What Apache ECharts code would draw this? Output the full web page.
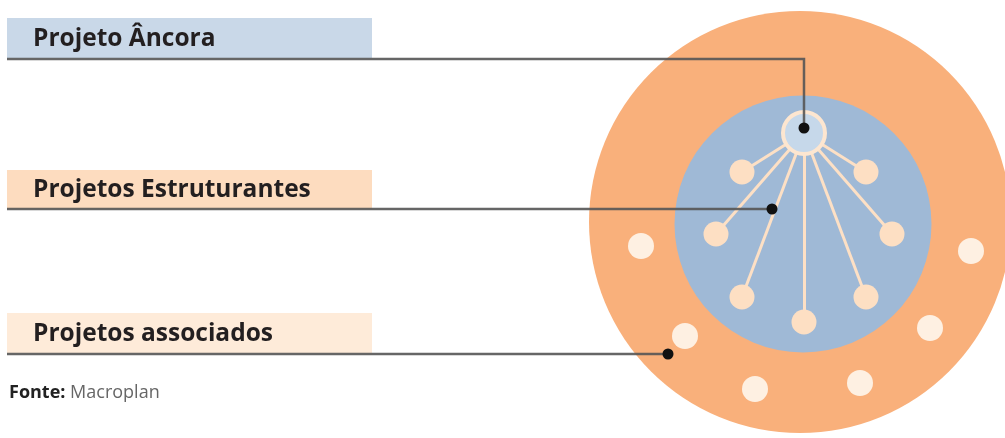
<!DOCTYPE html>
<html>
<head>
<meta charset="utf-8">
<script src="https://cdn.jsdelivr.net/npm/echarts@6/dist/echarts.min.js"></script>
<style>
html, body { margin: 0; padding: 0; background: #fff; }
#main { width: 1005px; height: 438px; }
</style>
</head>
<body>
<div id="main"></div>
<script>
// diagram units = pixels of the original figure
var tiers = ['Projeto Âncora', 'Projetos Estruturantes', 'Projetos associados'];
var outerRing = [[800, 222]];
var innerRing = [[803, 224]];
var anchorNode = [[804, 133]];
var structuringNodes = [[742, 172], [866, 172], [716, 234], [892, 234], [742, 297], [866, 297], [804, 322]];
var associatedNodes = [[641, 246], [971, 251], [685, 336], [930, 328], [755, 389], [860, 383]];
// leader lines: label -> dot
var leaderPaths = [
    [[7, 59], [804, 59], [804, 128]],
    [[7, 209], [772, 209]],
    [[7, 354], [668, 354]]
];
var leaderDots = [[804, 128], [772, 209], [668, 354]];

var myChart = echarts.init(document.getElementById('main'));

// label bands (top, bottom, fill)
var bands = [
    {top: 18, bottom: 58, fill: '#c9d8e8'},
    {top: 170, bottom: 209, fill: '#fddcbf'},
    {top: 313, bottom: 353, fill: '#feebd9'}
];

var spokes = structuringNodes.map(function (p) {
    return {coords: [anchorNode[0], p]};
});

var option = {
    backgroundColor: '#fff',
    animation: false,
    grid: {left: 0, right: 0, top: 0, bottom: 0},
    xAxis: {type: 'value', min: 0, max: 1005, show: false},
    yAxis: {type: 'value', min: 0, max: 438, inverse: true, show: false},
    title: {
        left: 9,
        top: 384,
        padding: 0,
        text: '{b|Fonte:} Macroplan',
        textStyle: {
            fontFamily: 'Open Sans',
            fontSize: 18,
            fontWeight: 'normal',
            color: '#666',
            rich: {
                b: {fontFamily: 'Open Sans', fontSize: 18, fontWeight: 'bold', color: '#222'}
            }
        }
    },
    series: [
        {
            type: 'custom',
            z: 1,
            data: tiers.map(function (t, i) { return [i]; }),
            renderItem: function (params, api) {
                var i = api.value(0);
                var b = bands[i];
                var p0 = api.coord([7, b.top]);
                var p1 = api.coord([372, b.bottom]);
                return {
                    type: 'group',
                    children: [
                        {
                            type: 'rect',
                            shape: {x: p0[0], y: p0[1], width: p1[0] - p0[0], height: p1[1] - p0[1]},
                            style: {fill: b.fill}
                        },
                        {
                            type: 'text',
                            x: p0[0] + 26,
                            y: (p0[1] + p1[1]) / 2 + 1,
                            style: {
                                text: tiers[i],
                                fontFamily: 'Open Sans',
                                fontWeight: 'bold',
                                fontSize: 24.5,
                                fill: '#231f20',
                                verticalAlign: 'middle'
                            }
                        }
                    ]
                };
            }
        },
        {
            type: 'scatter',
            z: 2,
            symbolSize: 422,
            itemStyle: {color: '#f9b07b', opacity: 1},
            data: outerRing,
            silent: true
        },
        {
            type: 'scatter',
            z: 3,
            symbolSize: 257,
            itemStyle: {color: '#9fb9d6', opacity: 1},
            data: innerRing,
            silent: true
        },
        {
            type: 'lines',
            coordinateSystem: 'cartesian2d',
            z: 4,
            lineStyle: {color: '#fde0c5', width: 3, opacity: 1},
            data: spokes,
            silent: true
        },
        {
            type: 'scatter',
            z: 5,
            symbolSize: 42,
            itemStyle: {color: '#c6d8ea', borderColor: '#fde6d0', borderWidth: 4, opacity: 1},
            data: anchorNode,
            silent: true
        },
        {
            type: 'scatter',
            z: 5,
            symbolSize: 25,
            itemStyle: {color: '#fddfc3', opacity: 1},
            data: structuringNodes,
            silent: true
        },
        {
            type: 'scatter',
            z: 5,
            symbolSize: 26,
            itemStyle: {color: '#fef0e2', opacity: 1},
            data: associatedNodes,
            silent: true
        },
        {
            type: 'lines',
            coordinateSystem: 'cartesian2d',
            polyline: true,
            z: 6,
            lineStyle: {color: '#555', width: 2.5, opacity: 0.9},
            data: leaderPaths.map(function (p) { return {coords: p}; }),
            silent: true
        },
        {
            type: 'scatter',
            z: 7,
            symbolSize: 11,
            itemStyle: {color: '#111', opacity: 1},
            data: leaderDots,
            silent: true
        }
    ]
};

myChart.setOption(option);
</script>
</body>
</html>
